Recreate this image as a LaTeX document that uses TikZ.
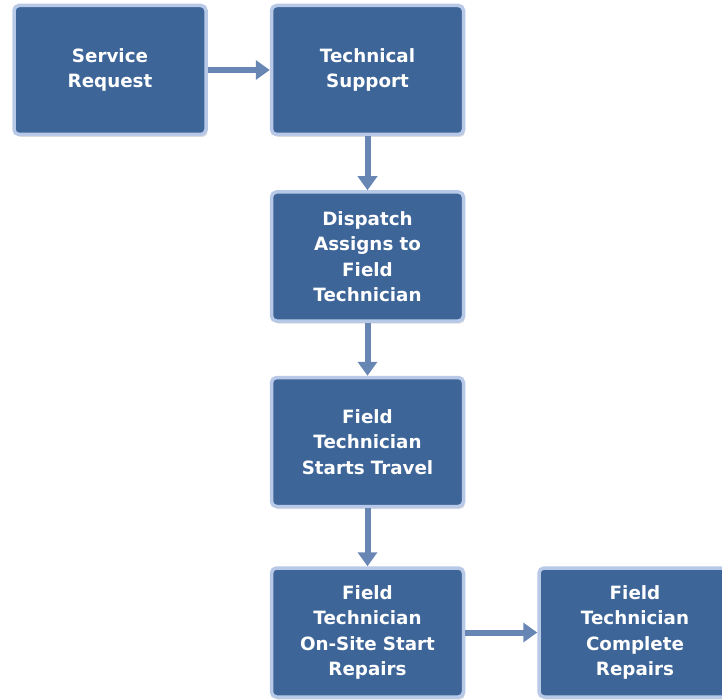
\documentclass[tikz,border=0pt]{standalone}
\usepackage{fontspec}
\setmainfont{DejaVu Sans}
\usepackage{xcolor}
\usepackage{tikz}
\usetikzlibrary{arrows.meta, positioning, shadows}
\definecolor{boxblue}{RGB}{62,101,152}
\definecolor{boxedge}{RGB}{184,201,232}
\definecolor{arrowblue}{RGB}{104,134,180}
\tikzset{
  block/.style={rectangle, draw=boxedge, line width=3.5pt, rounded corners=5pt,
    fill=boxblue, text=white, text width=185pt, align=center,
    minimum width=192pt, minimum height=129pt, inner sep=0pt,
    font=\fontsize{18.3}{25.5}\selectfont\bfseries,
    drop shadow={shadow xshift=1.5pt, shadow yshift=-2.5pt, opacity=0.25}},
  arrowline/.style={-{Triangle[length=14pt, width=19pt]}, line width=6pt, arrowblue}
}

\begin{document}
\begin{tikzpicture}[x=1pt, y=1pt, node distance=58pt]
  \clip (0,0) rectangle (722,-700);
  \node[block] (request) at (110,-70) {Service\\ Request};
  \node[block, right=62pt of request] (support) {Technical\\ Support};
  \node[block, below=54pt of support] (dispatch) {Dispatch\\ Assigns to\\ Field\\ Technician};
  \node[block, below=53pt of dispatch] (travel) {Field\\ Technician\\ Starts Travel};
  \node[block, below=58pt of travel] (onsite) {Field\\ Technician\\ On-Site Start\\ Repairs};
  \node[block, right=72pt of onsite] (complete) {Field\\ Technician\\ Complete\\ Repairs};

  \draw[arrowline] (request) -- (support);
  \draw[arrowline] (support) -- (dispatch);
  \draw[arrowline] (dispatch) -- (travel);
  \draw[arrowline] (travel) -- (onsite);
  \draw[arrowline] (onsite) -- (complete);
\end{tikzpicture}
\end{document}
